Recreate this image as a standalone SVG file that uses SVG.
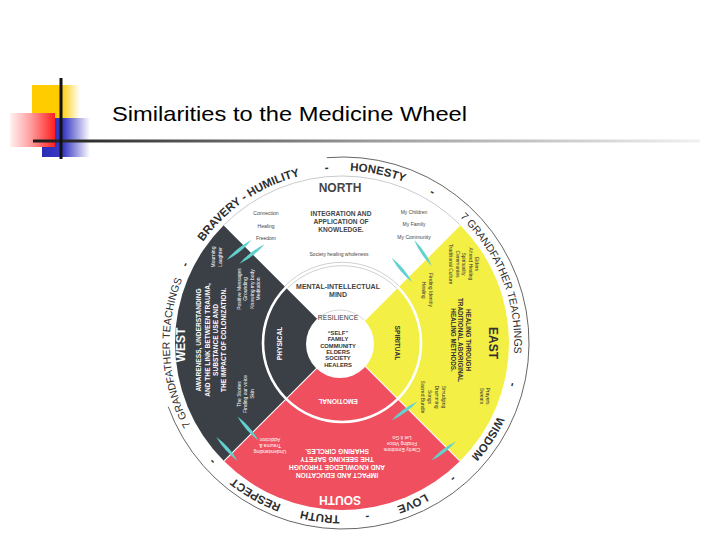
<svg xmlns="http://www.w3.org/2000/svg" width="720" height="540" viewBox="0 0 720 540">
<defs>
<style>
text{font-family:"Liberation Sans",Arial,sans-serif}
.ring{font-size:11.5px;font-weight:bold;fill:#2e2e2e;text-anchor:middle}
.ringr{font-size:10.5px;fill:#2e2e2e;text-anchor:middle}
.dir{font-size:12px;font-weight:bold}
.hd{font-size:6.6px;font-weight:bold}
.hde{font-size:6.3px;font-weight:bold}
.sm{font-size:5px}
.mid{text-anchor:middle}
.w{fill:#ffffff}
.dk{fill:#333333}
.gr{fill:#454545}
.arr{fill:#62d2cf}
</style>
<linearGradient id="gy" x1="0" x2="1" y1="0" y2="0"><stop offset="0" stop-color="#ffcc00"/><stop offset="0.6" stop-color="#ffcc00"/><stop offset="1" stop-color="#ffffff"/></linearGradient>
<linearGradient id="gb" x1="0" x2="1" y1="0" y2="0"><stop offset="0" stop-color="#2b2bb8"/><stop offset="0.45" stop-color="#3a3ac4"/><stop offset="1" stop-color="#ffffff"/></linearGradient>
<linearGradient id="gr" x1="0" x2="1" y1="0" y2="0"><stop offset="0" stop-color="#fff2f2"/><stop offset="0.45" stop-color="#ffa0a0"/><stop offset="1" stop-color="#ff1f1f"/></linearGradient>
<linearGradient id="gl" x1="0" x2="1" y1="0" y2="0"><stop offset="0" stop-color="#1a1a1a"/><stop offset="0.5" stop-color="#9a9a9a"/><stop offset="1" stop-color="#f0f0f0"/></linearGradient>
<path id="ringpath" d="M194.57,254.41 A172,172 0 1 1 489.43,431.59 A172,172 0 1 1 194.57,254.41"/>
<path id="needle" d="M-16,0 Q0,-3.4 16,0 Q0,3.4 -16,0Z"/>
</defs>

<g id="title">
<rect x="32" y="85" width="48" height="33" fill="url(#gy)"/>
<rect x="42" y="118" width="48" height="39" fill="url(#gb)"/>
<rect x="10" y="113" width="45" height="34" fill="url(#gr)"/>
<rect x="33" y="139.5" width="667" height="3" fill="url(#gl)"/>
<rect x="59.5" y="78" width="3" height="81" fill="#111"/>
<text x="112" y="121" font-size="21" textLength="355" lengthAdjust="spacingAndGlyphs" fill="#000">Similarities to the Medicine Wheel</text>
</g>

<g id="wheel-base">
<path d="M342,343 L223.91,461.09 A167,167 0 0 1 223.91,224.91 Z" fill="#3b3f46"/>
<path d="M342,343 L223.91,224.91 A167,167 0 0 1 460.09,224.91 Z" fill="#ffffff"/>
<path d="M342,343 L460.09,224.91 A167,167 0 0 1 460.09,461.09 Z" fill="#f4ef45"/>
<path d="M342,343 L460.09,461.09 A167,167 0 0 1 223.91,461.09 Z" fill="#ef4f5e"/>
<path d="M223.91,224.91 A167,167 0 0 1 460.09,224.91" fill="none" stroke="#bdbdbd" stroke-width="0.8"/>
<line x1="223.91" y1="224.91" x2="460.09" y2="461.09" stroke="#fff" stroke-width="1.2"/>
<line x1="460.09" y1="224.91" x2="223.91" y2="461.09" stroke="#fff" stroke-width="1.2"/>
<circle cx="342" cy="343" r="79" fill="none" stroke="#fff" stroke-width="2.6"/>
<path d="M287.34,288.34 A77.3,77.3 0 0 1 396.66,288.34" fill="none" stroke="#bbb" stroke-width="0.7"/>
<path d="M284.94,285.94 A80.7,80.7 0 0 1 399.06,285.94" fill="none" stroke="#bbb" stroke-width="0.7"/>
<circle cx="340" cy="344" r="34" fill="#fff"/>
<path d="M315.96,319.96 A34,34 0 0 1 364.04,319.96" fill="none" stroke="#c4c4c4" stroke-width="0.7"/>
</g>

<g id="ring">
<path d="M326.79,157.71 A186,186 0 1 1 168.22,406.62" fill="none" stroke="#555" stroke-width="0.9"/>
<text class="ring"><textPath href="#ringpath" startOffset="75">BRAVERY - HUMILITY</textPath></text>
<text class="ring"><textPath href="#ringpath" startOffset="162.1">-</textPath></text>
<text class="ring"><textPath href="#ringpath" startOffset="213.1">HONESTY</textPath></text>
<text class="ring"><textPath href="#ringpath" startOffset="270.2">-</textPath></text>
<text class="ringr"><textPath href="#ringpath" startOffset="382.8">7 GRANDFATHER TEACHINGS</textPath></text>
<text class="ring"><textPath href="#ringpath" startOffset="489.3">-</textPath></text>
<text class="ring"><textPath href="#ringpath" startOffset="547.9">WISDOM</textPath></text>
<text class="ring"><textPath href="#ringpath" startOffset="600.4">-</textPath></text>
<text class="ring"><textPath href="#ringpath" startOffset="646.9">LOVE</textPath></text>
<text class="ring"><textPath href="#ringpath" startOffset="693.5">-</textPath></text>
<text class="ring"><textPath href="#ringpath" startOffset="740">TRUTH</textPath></text>
<text class="ring"><textPath href="#ringpath" startOffset="807.5">RESPECT</textPath></text>
<text class="ring"><textPath href="#ringpath" startOffset="861.6">-</textPath></text>
<text class="ringr"><textPath href="#ringpath" startOffset="978.6">7 GRANDFATHER TEACHINGS</textPath></text>
<text class="ring"><textPath href="#ringpath" startOffset="1068.7">-</textPath></text>
</g>

<g id="north" class="mid">
<text class="dir gr" x="340" y="192">NORTH</text>
<g class="hd gr">
<text x="341" y="216">INTEGRATION AND</text>
<text x="341" y="224">APPLICATION OF</text>
<text x="341" y="232">KNOWLEDGE.</text>
</g>
<g class="sm gr">
<text x="266" y="215">Connection</text>
<text x="266" y="227.5">Healing</text>
<text x="266" y="240">Freedom</text>
<text x="414" y="213.7">My Children</text>
<text x="414" y="226">My Family</text>
<text x="414" y="238.7">My Community</text>
<text x="339" y="256">Society healing wholeness</text>
</g>
<g class="gr" font-size="7" font-weight="bold">
<text x="338" y="288.5">MENTAL-INTELLECTUAL</text>
<text x="338" y="296.5">MIND</text>
</g>
</g>

<g id="center" class="mid">
<text fill="#383838" x="338" y="320" font-size="6.8">RESILIENCE</text>
<g class="dk" font-size="5.8" font-weight="bold">
<text x="338" y="334.5">“SELF”</text>
<text x="338" y="341">FAMILY</text>
<text x="338" y="347.5">COMMUNITY</text>
<text x="338" y="353.8">ELDERS</text>
<text x="338" y="360.2">SOCIETY</text>
<text x="338" y="366.5">HEALERS</text>
</g>
</g>

<g id="west" class="mid">
<text class="dir w" transform="translate(185.3,345) rotate(-90)">WEST</text>
<g class="hd w" transform="translate(211,340) rotate(-90)">
<text x="0" y="-9.7">AWARENESS, UNDERSTANDING</text>
<text x="0" y="-1.5">AND THE LINK BETWEEN TRAUMA,</text>
<text x="0" y="6.7">SUBSTANCE USE AND</text>
<text x="0" y="14.9">THE IMPACT OF COLONIZATION.</text>
</g>
<g class="sm w" transform="translate(240.8,289) rotate(-90)">
<text x="0" y="0">Positive Messages</text>
<text x="0" y="6.5">Grounding</text>
<text x="0" y="13">Knowing my body</text>
<text x="0" y="19.5">Meditation</text>
</g>
<g class="sm w" transform="translate(214.8,257) rotate(-90)">
<text x="0" y="0">Mourning</text>
<text x="0" y="7">Laughter</text>
</g>
<g class="sm w" transform="translate(240.8,394) rotate(-90)">
<text x="0" y="0">The Stories</text>
<text x="0" y="6.5">Finding our voice</text>
<text x="0" y="13">Skin</text>
</g>
<text class="hd w" transform="translate(282.4,343.5) rotate(-90)">PHYSICAL</text>
</g>

<g id="east" class="mid">
<text class="dir dk" transform="translate(488.7,343) rotate(90)">EAST</text>
<g class="hde dk" transform="translate(465.7,340) rotate(90)">
<text x="0" y="0">HEALING THROUGH</text>
<text x="0" y="7.5">TRADITIONAL ABORIGINAL</text>
<text x="0" y="15">HEALING METHODS.</text>
</g>
<g class="sm dk" transform="translate(475.2,264) rotate(90)">
<text x="0" y="0">Elders</text>
<text x="0" y="6.5">Attend Healing</text>
<text x="0" y="13">Spirituality</text>
<text x="0" y="19.5">Ceremonies</text>
<text x="0" y="26">Traditional Culture</text>
</g>
<g class="sm dk" transform="translate(429.2,290) rotate(90)">
<text x="0" y="0">Finding Identity</text>
<text x="0" y="7">Healing</text>
</g>
<g class="sm dk" transform="translate(486.2,396) rotate(90)">
<text x="0" y="0">Prayers</text>
<text x="0" y="6.5">Sweats</text>
</g>
<g class="sm dk" transform="translate(441.5,397) rotate(90)">
<text x="0" y="0">Smudging</text>
<text x="0" y="6.8">Drumming</text>
<text x="0" y="13.6">Songs</text>
<text x="0" y="20.4">Sacred Bundle</text>
</g>
<text class="hd dk" transform="translate(394.6,343) rotate(90)">SPIRITUAL</text>
</g>

<g id="south" class="mid">
<text class="dir w" transform="translate(340,495.7) rotate(180)">SOUTH</text>
<g class="w" font-size="6.7" font-weight="bold" transform="translate(337,472.7) rotate(180)">
<text x="0" y="0">IMPACT AND EDUCATION</text>
<text x="0" y="8">AND KNOWLEDGE THROUGH</text>
<text x="0" y="16">THE SEEKING SAFETY</text>
<text x="0" y="24">SHARING CIRCLES.</text>
</g>
<g class="sm w" transform="translate(270,449.9) rotate(180)">
<text x="0" y="0">Understanding</text>
<text x="0" y="6">Trauma &amp;</text>
<text x="0" y="12">Addiction</text>
</g>
<g class="sm w" transform="translate(402,448.2) rotate(180)">
<text x="0" y="0">Clarity Emotions</text>
<text x="0" y="6">Finding Voice</text>
<text x="0" y="12">Let it Go</text>
</g>
<text class="hd w" transform="translate(338,398.6) rotate(180)">EMOTIONAL</text>
</g>

<g id="connectors" class="arr">
<use href="#needle" transform="translate(239,250) rotate(-39)"/>
<use href="#needle" transform="translate(252,254) rotate(-38)"/>
<use href="#needle" transform="translate(423,253) rotate(56)"/>
<use href="#needle" transform="translate(402,270) rotate(50)"/>
<use href="#needle" transform="translate(404.5,411) rotate(-36)"/>
<use href="#needle" transform="translate(443.5,451) rotate(-38)"/>
<use href="#needle" transform="translate(248,428.5) rotate(49)"/>
<use href="#needle" transform="translate(227,449) rotate(48)"/>
</g>
</svg>
